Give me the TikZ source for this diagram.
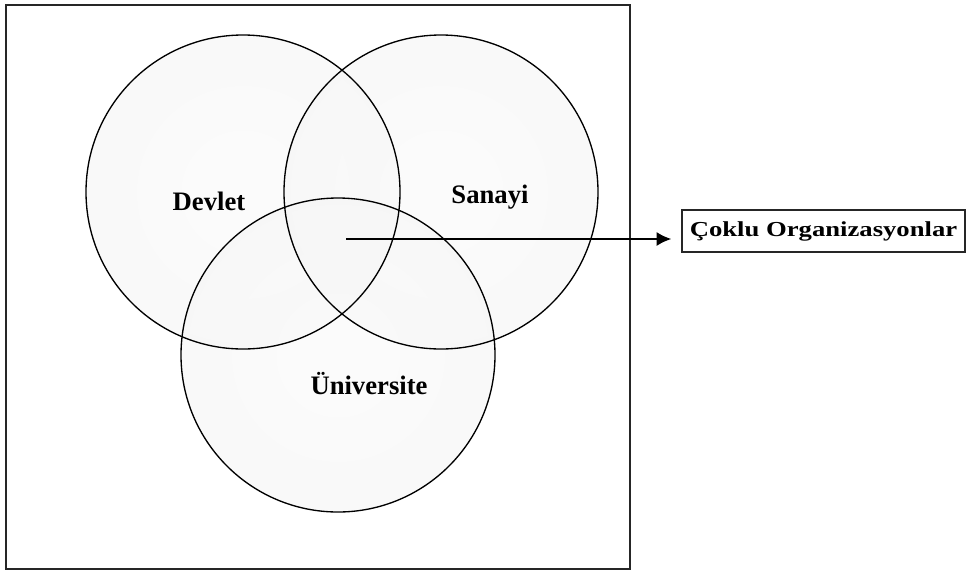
\documentclass[tikz,border=0pt]{standalone}
\usepackage{fontspec}
\setmainfont{Liberation Serif}
\usetikzlibrary{arrows.meta}

\pgfdeclareradialshading{kabarcik}{\pgfpoint{0bp}{0bp}}{color(0bp)=(gray!4); color(36bp)=(gray!8); color(44bp)=(gray!14); color(47bp)=(gray!28); color(49bp)=(gray!50); color(50bp)=(gray!65)}
\tikzset{
  daire/.style={circle, shading=kabarcik, fill opacity=0.7, minimum size=235.5pt, inner sep=0pt},
  cizgi/.style={draw=black, line width=1pt},
  etiket/.style={font=\bfseries\fontsize{20}{24}\selectfont},
  kutu/.style={draw=black!85, line width=1.2pt, minimum width=212pt, minimum height=31.5pt, inner sep=0pt, font=\bfseries\fontsize{16}{19}\selectfont},
}

\begin{document}
\begin{tikzpicture}[x=0.75pt, y=-0.75pt]
	\useasboundingbox (0,0) rectangle (967,572);
	% cerceve
	\draw[black!85, line width=1.3pt] (6,5) rectangle (630,569);
	% daireler
	\node[daire] (devlet) at (243,192) {};
	\node[daire] (sanayi) at (441,192) {};
	\node[daire] (universite) at (338,355) {};
	\foreach \d in {devlet, sanayi, universite}
		\draw[cizgi] (\d.center) circle [radius=117.75pt];
	% etiketler
	\node[etiket] (devletyazi) at (209,201) {Devlet};
	\node[etiket] (sanayiyazi) at (490,197) {Sanayi};
	\node[etiket] (universiteyazi) at (369,384) {Üniversite};
	% coklu organizasyonlar
	\node[kutu] (coklu) at (823.5,231) {\scalebox{1.25}[1]{Çoklu Organizasyonlar}};
	\coordinate (merkez) at (346,239);
	\draw[line width=1.5pt, -{Latex[length=11pt, width=10.5pt]}, shorten >=7.5pt] (merkez) -- (merkez -| coklu.west);
\end{tikzpicture}
\end{document}
